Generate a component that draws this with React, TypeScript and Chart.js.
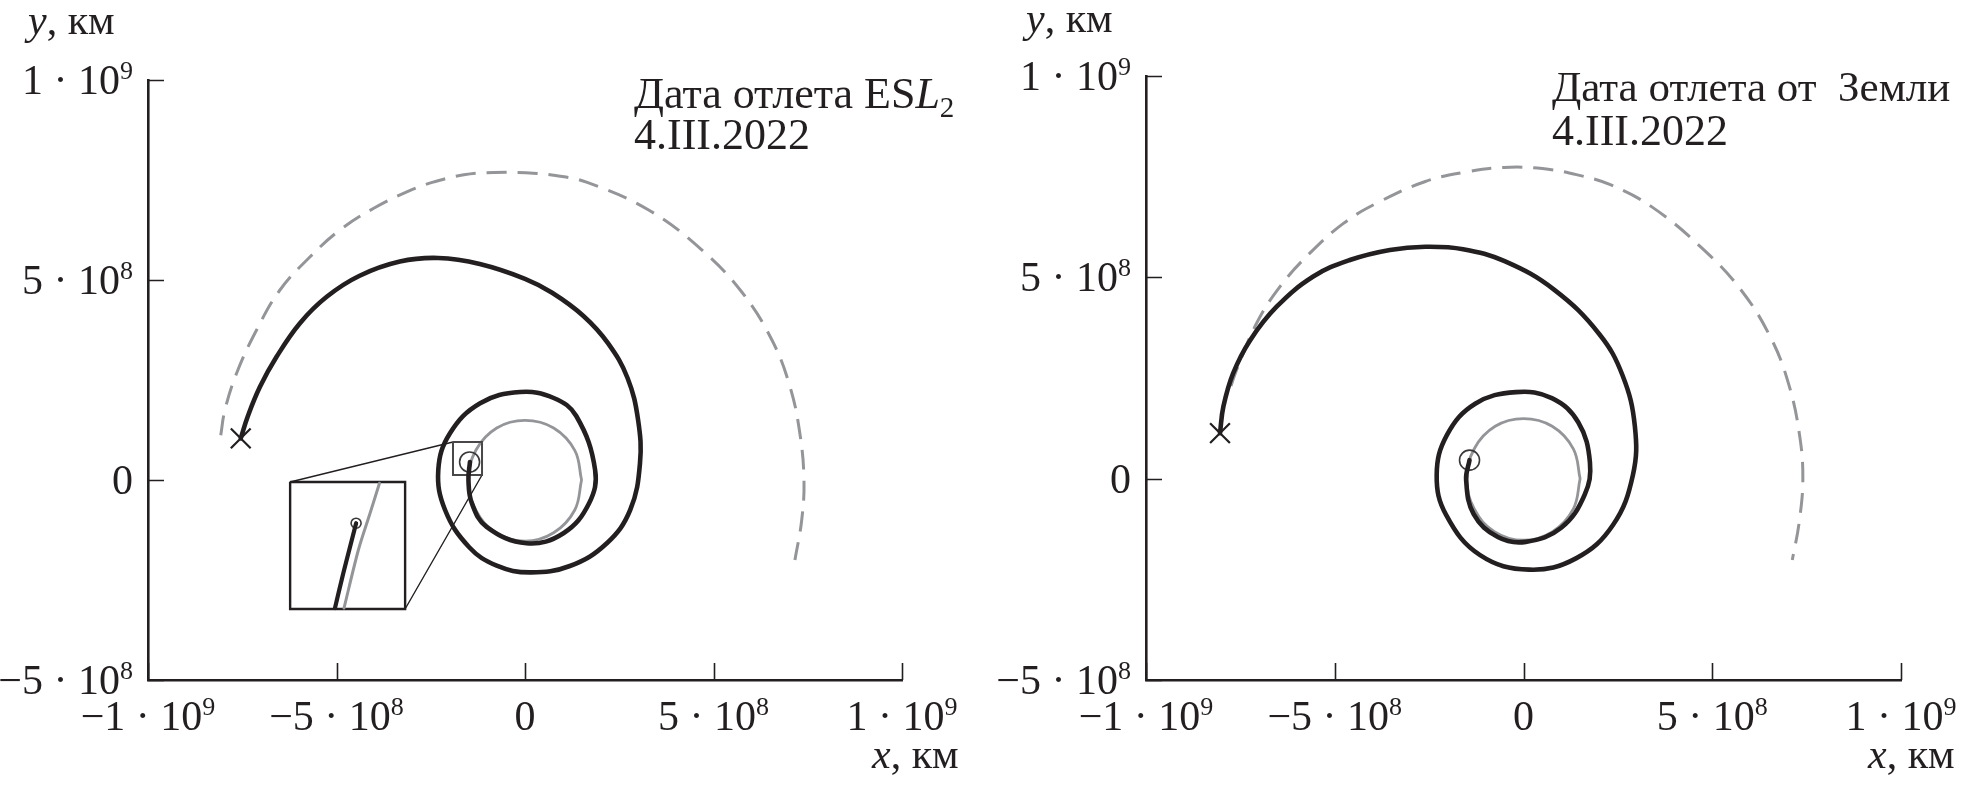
import React, { useEffect, useRef } from "react";
import { Chart, registerables } from "chart.js";

Chart.register(...registerables);

type P = { x: number; y: number };

// ---------- axis ticks ----------
const X_TICKS = [-1e9, -5e8, 0, 5e8, 1e9];
const X_TICK_LABELS = ["−1 · 10^9", "−5 · 10^8", "0", "5 · 10^8", "1 · 10^9"];
const Y_TICKS = [-5e8, 0, 5e8, 1e9];
const Y_TICK_LABELS = ["−5 · 10^8", "0", "5 · 10^8", "1 · 10^9"];

// ---------- left panel (departure from ESL2) ----------
const LEFT_TRAJECTORY: P[] = [
  { x: -1.46e8, y: 4.5e7 }, { x: -1.5e8, y: 0 }, { x: -1.41e8, y: -5.8e7 },
  { x: -1.02e8, y: -1.17e8 }, { x: 4e6, y: -1.58e8 }, { x: 1.02e8, y: -1.33e8 },
  { x: 1.7e8, y: -5.8e7 }, { x: 1.86e8, y: 2.5e7 }, { x: 1.36e8, y: 1.6e8 },
  { x: 7.6e7, y: 2.05e8 }, { x: -1.3e7, y: 2.2e8 }, { x: -1.19e8, y: 1.92e8 },
  { x: -1.99e8, y: 1.17e8 }, { x: -2.3e8, y: 2.5e7 }, { x: -2.12e8, y: -7.5e7 },
  { x: -1.48e8, y: -1.68e8 }, { x: -7.5e7, y: -2.14e8 }, { x: 1.3e7, y: -2.31e8 },
  { x: 1.19e8, y: -2.15e8 }, { x: 2.17e8, y: -1.58e8 }, { x: 2.79e8, y: -7.5e7 },
  { x: 3.05e8, y: 4.2e7 }, { x: 3.0e8, y: 1.5e8 }, { x: 2.72e8, y: 2.55e8 },
  { x: 2.2e8, y: 3.42e8 }, { x: 1.55e8, y: 4.1e8 }, { x: 7.2e7, y: 4.68e8 },
  { x: 0, y: 5.03e8 }, { x: -1.2e8, y: 5.4e8 }, { x: -2.3e8, y: 5.55e8 },
  { x: -3.32e8, y: 5.46e8 }, { x: -4.4e8, y: 5.1e8 }, { x: -5.26e8, y: 4.58e8 },
  { x: -5.97e8, y: 3.92e8 }, { x: -6.59e8, y: 3.08e8 }, { x: -7.03e8, y: 2.33e8 },
  { x: -7.35e8, y: 1.6e8 }, { x: -7.54e8, y: 1.04e8 },
];
const LEFT_JUPITER: P[] = [
  { x: -8.07e8, y: 1.12e8 }, { x: -7.96e8, y: 1.75e8 }, { x: -7.65e8, y: 2.67e8 },
  { x: -7.12e8, y: 3.75e8 }, { x: -6.5e8, y: 4.75e8 }, { x: -5.7e8, y: 5.58e8 },
  { x: -4.91e8, y: 6.25e8 }, { x: -4.0e8, y: 6.8e8 }, { x: -3.12e8, y: 7.21e8 },
  { x: -2.46e8, y: 7.44e8 }, { x: -1.62e8, y: 7.63e8 }, { x: -8.2e7, y: 7.69e8 },
  { x: 2e6, y: 7.68e8 }, { x: 8.1e7, y: 7.61e8 }, { x: 1.65e8, y: 7.44e8 },
  { x: 3.28e8, y: 6.75e8 }, { x: 4.68e8, y: 5.76e8 }, { x: 5.75e8, y: 4.7e8 },
  { x: 6.55e8, y: 3.5e8 }, { x: 7.03e8, y: 2.33e8 }, { x: 7.29e8, y: 1.17e8 },
  { x: 7.4e8, y: 0 }, { x: 7.34e8, y: -1e8 }, { x: 7.16e8, y: -2e8 },
];
const LEFT_EARTH: P[] = [
  { x: 1.5e8, y: 0 }, { x: 1.32e8, y: 7.4e7 }, { x: 7.6e7, y: 1.3e8 },
  { x: 0, y: 1.49e8 }, { x: -7.5e7, y: 1.3e8 }, { x: -1.3e8, y: 7.5e7 },
  { x: -1.5e8, y: 0 }, { x: -1.3e8, y: -7.6e7 }, { x: -7.6e7, y: -1.32e8 },
  { x: 0, y: -1.53e8 }, { x: 7.6e7, y: -1.32e8 }, { x: 1.32e8, y: -7.5e7 },
  { x: 1.5e8, y: 0 },
];
const LEFT_START: P[] = [{ x: -1.47e8, y: 4.5e7 }];
const LEFT_END: P[] = [{ x: -7.54e8, y: 1.04e8 }];

// inset (magnified view of the start)
const ZOOM_BOX: P[] = [
  { x: -1.91e8, y: 9.5e7 }, { x: -1.14e8, y: 9.5e7 }, { x: -1.14e8, y: 1.25e7 },
  { x: -1.91e8, y: 1.25e7 }, { x: -1.91e8, y: 9.5e7 },
];
const INSET_BOX: P[] = [
  { x: -6.23e8, y: -5e6 }, { x: -3.18e8, y: -5e6 }, { x: -3.18e8, y: -3.225e8 },
  { x: -6.23e8, y: -3.225e8 }, { x: -6.23e8, y: -5e6 },
];
const INSET_LINK_TOP: P[] = [{ x: -6.23e8, y: -5e6 }, { x: -1.91e8, y: 9.5e7 }];
const INSET_LINK_BOTTOM: P[] = [{ x: -3.18e8, y: -3.225e8 }, { x: -1.14e8, y: 1.25e7 }];
const INSET_TRAJECTORY: P[] = [
  { x: -4.48e8, y: -1.08e8 }, { x: -4.64e8, y: -1.67e8 },
  { x: -4.82e8, y: -2.33e8 }, { x: -5.04e8, y: -3.2e8 },
];
const INSET_EARTH: P[] = [
  { x: -3.86e8, y: -8e6 }, { x: -4.11e8, y: -8.3e7 },
  { x: -4.42e8, y: -1.75e8 }, { x: -4.8e8, y: -3.2e8 },
];
const INSET_START: P[] = [{ x: -4.48e8, y: -1.08e8 }];

// ---------- right panel (departure from Earth) ----------
const RIGHT_TRAJECTORY: P[] = [
  { x: -1.43e8, y: 4.6e7 }, { x: -1.52e8, y: -3e6 }, { x: -1.32e8, y: -8.8e7 },
  { x: -6.8e7, y: -1.45e8 }, { x: 6e6, y: -1.57e8 }, { x: 1.0e8, y: -1.22e8 },
  { x: 1.62e8, y: -4e7 }, { x: 1.76e8, y: 4e7 }, { x: 1.45e8, y: 1.4e8 },
  { x: 7.5e7, y: 2.0e8 }, { x: -2e7, y: 2.15e8 }, { x: -1.28e8, y: 1.86e8 },
  { x: -2.03e8, y: 1.08e8 }, { x: -2.3e8, y: 9e6 }, { x: -2.05e8, y: -9e7 },
  { x: -1.15e8, y: -1.9e8 }, { x: 1.5e7, y: -2.26e8 }, { x: 1.39e8, y: -1.98e8 },
  { x: 2.37e8, y: -1.15e8 }, { x: 2.9e8, y: 1e7 }, { x: 2.95e8, y: 1.3e8 },
  { x: 2.63e8, y: 2.55e8 }, { x: 2.0e8, y: 3.6e8 }, { x: 8e7, y: 4.7e8 },
  { x: -5e7, y: 5.4e8 }, { x: -1.6e8, y: 5.7e8 }, { x: -2.6e8, y: 5.76e8 },
  { x: -3.54e8, y: 5.68e8 }, { x: -4.6e8, y: 5.43e8 }, { x: -5.57e8, y: 5.02e8 },
  { x: -6.54e8, y: 4.27e8 }, { x: -7.24e8, y: 3.44e8 }, { x: -7.69e8, y: 2.62e8 },
  { x: -7.95e8, y: 1.79e8 }, { x: -8.04e8, y: 1.13e8 },
];
const RIGHT_JUPITER: P[] = [
  { x: -7.75e8, y: 2.3e8 }, { x: -7.6e8, y: 2.7e8 }, { x: -7.07e8, y: 3.86e8 },
  { x: -6.45e8, y: 4.77e8 }, { x: -5.66e8, y: 5.6e8 }, { x: -4.77e8, y: 6.34e8 },
  { x: -3.89e8, y: 6.84e8 }, { x: -2.6e8, y: 7.38e8 }, { x: -1.5e8, y: 7.62e8 },
  { x: -5.2e7, y: 7.73e8 }, { x: 5e7, y: 7.7e8 }, { x: 1.4e8, y: 7.55e8 },
  { x: 2.3e8, y: 7.3e8 }, { x: 3.4e8, y: 6.75e8 }, { x: 4.7e8, y: 5.75e8 },
  { x: 5.75e8, y: 4.7e8 }, { x: 6.55e8, y: 3.5e8 }, { x: 7.03e8, y: 2.33e8 },
  { x: 7.31e8, y: 1.1e8 }, { x: 7.4e8, y: 0 }, { x: 7.3e8, y: -1.1e8 },
  { x: 7.12e8, y: -2.02e8 },
];
const RIGHT_EARTH: P[] = [
  { x: 1.5e8, y: 0 }, { x: 1.32e8, y: 7.4e7 }, { x: 7.6e7, y: 1.3e8 },
  { x: 0, y: 1.49e8 }, { x: -7.5e7, y: 1.3e8 }, { x: -1.3e8, y: 7.5e7 },
  { x: -1.5e8, y: 0 }, { x: -1.3e8, y: -7.6e7 }, { x: -7.6e7, y: -1.32e8 },
  { x: 0, y: -1.53e8 }, { x: 7.6e7, y: -1.32e8 }, { x: 1.32e8, y: -7.5e7 },
  { x: 1.5e8, y: 0 },
];
const RIGHT_START: P[] = [{ x: -1.43e8, y: 4.6e7 }];
const RIGHT_END: P[] = [{ x: -8.04e8, y: 1.13e8 }];

// ---------- styling ----------
const INK = "#231f20";
const GRAY = "#939598";
const FONT = '"Liberation Serif", "Times New Roman", serif';
const FS = 42;

type Seg = { t: string; italic?: boolean; size?: number; dy?: number };

function drawSegs(ctx: CanvasRenderingContext2D, segs: Seg[], x: number, y: number, align: string, base = FS) {
  const fontOf = (s: Seg) => `${s.italic ? "italic " : ""}${s.size ?? base}px ${FONT}`;
  let total = 0;
  const widths = segs.map((s) => {
    ctx.font = fontOf(s);
    const w = ctx.measureText(s.t).width;
    total += w;
    return w;
  });
  let cx = align === "right" ? x - total : align === "center" ? x - total / 2 : x;
  segs.forEach((s, i) => {
    ctx.font = fontOf(s);
    ctx.fillText(s.t, cx, y + (s.dy ?? 0));
    cx += widths[i];
  });
}

function tickSegs(label: string): Seg[] {
  const [m, e] = label.split("^");
  return e ? [{ t: m }, { t: e, size: FS * 0.62, dy: -FS * 0.36 }] : [{ t: m }];
}

const decorPlugin = {
  id: "decor",
  afterDraw(chart: any, _a: any, opts: any) {
    const ctx: CanvasRenderingContext2D = chart.ctx;
    const xs = chart.scales.x;
    const ys = chart.scales.y;
    const area = chart.chartArea;
    ctx.save();
    // inward tick marks
    ctx.strokeStyle = INK;
    ctx.lineWidth = 1.6;
    ctx.beginPath();
    X_TICKS.forEach((v) => {
      const px = Math.round(xs.getPixelForValue(v)) + 0.5;
      ctx.moveTo(px, area.bottom);
      ctx.lineTo(px, area.bottom - 17);
    });
    Y_TICKS.forEach((v) => {
      const py = Math.round(ys.getPixelForValue(v)) + 0.5;
      ctx.moveTo(area.left, py);
      ctx.lineTo(area.left + 16, py);
    });
    ctx.stroke();
    // tick labels
    ctx.fillStyle = INK;
    ctx.textBaseline = "alphabetic";
    ctx.textAlign = "left";
    X_TICKS.forEach((v, i) => {
      drawSegs(ctx, tickSegs(X_TICK_LABELS[i]), xs.getPixelForValue(v), opts.xLabelBase, "center");
    });
    Y_TICKS.forEach((v, i) => {
      drawSegs(ctx, tickSegs(Y_TICK_LABELS[i]), area.left - 15, ys.getPixelForValue(v) + 14, "right");
    });
    // axis titles
    drawSegs(ctx, [{ t: "y", italic: true }, { t: ", км" }], opts.yTitle[0], opts.yTitle[1], "left");
    drawSegs(ctx, [{ t: "x", italic: true }, { t: ", км" }], opts.xTitle[0], opts.xTitle[1], "left");
    // note
    drawSegs(ctx, opts.note1, opts.note[0], opts.note[1], "left", opts.noteSize);
    drawSegs(ctx, [{ t: "4.III.2022" }], opts.note[0], opts.note[2], "left", 44);
    ctx.restore();
  },
};

function curve(data: P[], color: string, width: number, extra: any = {}) {
  return {
    data,
    showLine: true,
    borderColor: color,
    borderWidth: width,
    pointRadius: 0,
    tension: 0.4,
    fill: false,
    borderCapStyle: "round",
    borderJoinStyle: "round",
    ...extra,
  };
}

function marker(data: P[], style: string, radius: number, width: number, color: string) {
  return {
    data,
    showLine: false,
    pointStyle: style,
    pointRadius: radius,
    pointBorderWidth: width,
    pointBorderColor: color,
    pointBackgroundColor: "rgba(0,0,0,0)",
    borderColor: color,
    backgroundColor: "rgba(0,0,0,0)",
  };
}

function buildChart(canvas: HTMLCanvasElement, datasets: any[], geo: any, decor: any) {
  return new Chart(canvas, {
    type: "scatter",
    data: { datasets },
    plugins: [decorPlugin],
    options: {
      responsive: false,
      animation: false,
      events: [],
      layout: { padding: { left: 0, top: geo.top, right: geo.right, bottom: 0 } },
      plugins: { legend: { display: false }, tooltip: { enabled: false }, decor } as any,
      scales: {
        x: {
          type: "linear",
          min: -1e9,
          max: 1e9,
          grid: { display: false },
          ticks: { display: false },
          border: { display: true, color: INK, width: 2.6 },
          afterFit: (s: any) => { s.height = 106; },
        },
        y: {
          type: "linear",
          min: -5e8,
          max: 1e9,
          grid: { display: false },
          ticks: { display: false },
          border: { display: true, color: INK, width: 2.6 },
          afterFit: (s: any) => { s.width = geo.left; },
        },
      },
    } as any,
  });
}

export default function App() {
  const leftRef = useRef<HTMLCanvasElement>(null);
  const rightRef = useRef<HTMLCanvasElement>(null);

  useEffect(() => {
    const leftSets = [
      curve(LEFT_TRAJECTORY, INK, 4.6),
      marker(LEFT_END, "crossRot", 14, 2.2, INK),
      marker(LEFT_START, "circle", 10, 1.6, "#3b3839"),
      curve(INSET_TRAJECTORY, INK, 4.2, { tension: 0.3 }),
      marker(INSET_START, "circle", 5, 1.6, "#3b3839"),
      curve(INSET_EARTH, GRAY, 3, { tension: 0.3 }),
      curve(ZOOM_BOX, "#4a4748", 2, { tension: 0, borderCapStyle: "butt", borderJoinStyle: "miter" }),
      curve(INSET_BOX, INK, 2.4, { tension: 0, borderCapStyle: "butt", borderJoinStyle: "miter" }),
      curve(INSET_LINK_TOP, INK, 1.4, { tension: 0 }),
      curve(INSET_LINK_BOTTOM, INK, 1.4, { tension: 0 }),
      curve(LEFT_EARTH, GRAY, 2.8),
      curve(LEFT_JUPITER, GRAY, 3, { borderDash: [20, 11], borderCapStyle: "butt" }),
    ];
    const rightSets = [
      curve(RIGHT_TRAJECTORY, INK, 4.6),
      marker(RIGHT_END, "crossRot", 14, 2.2, INK),
      marker(RIGHT_START, "circle", 10, 1.6, "#3b3839"),
      curve(RIGHT_EARTH, GRAY, 2.8),
      curve(RIGHT_JUPITER, GRAY, 3, { borderDash: [20, 11], borderCapStyle: "butt" }),
    ];
    const a = buildChart(leftRef.current!, leftSets, { left: 148, top: 80, right: 80 }, {
      xLabelBase: 730,
      yTitle: [28, 34],
      xTitle: [872, 768],
      note: [634, 108, 149],
      noteSize: 44,
      note1: [{ t: "Дата отлета ES" }, { t: "L", italic: true }, { t: "2", size: 29, dy: 9 }],
    });
    const b = buildChart(rightRef.current!, rightSets, { left: 164, top: 76, right: 63 }, {
      xLabelBase: 730,
      yTitle: [44, 32],
      xTitle: [886, 768],
      note: [570, 101, 145],
      noteSize: 43,
      note1: [{ t: "Дата отлета от  Земли" }],
    });
    return () => {
      a.destroy();
      b.destroy();
    };
  }, []);

  return (
    <div style={{ position: "absolute", left: 0, top: 0, width: 1964, height: 786, background: "#ffffff" }}>
      <canvas ref={leftRef} width={982} height={786} style={{ position: "absolute", left: 0, top: 0 }} />
      <canvas ref={rightRef} width={982} height={786} style={{ position: "absolute", left: 982, top: 0 }} />
    </div>
  );
}
